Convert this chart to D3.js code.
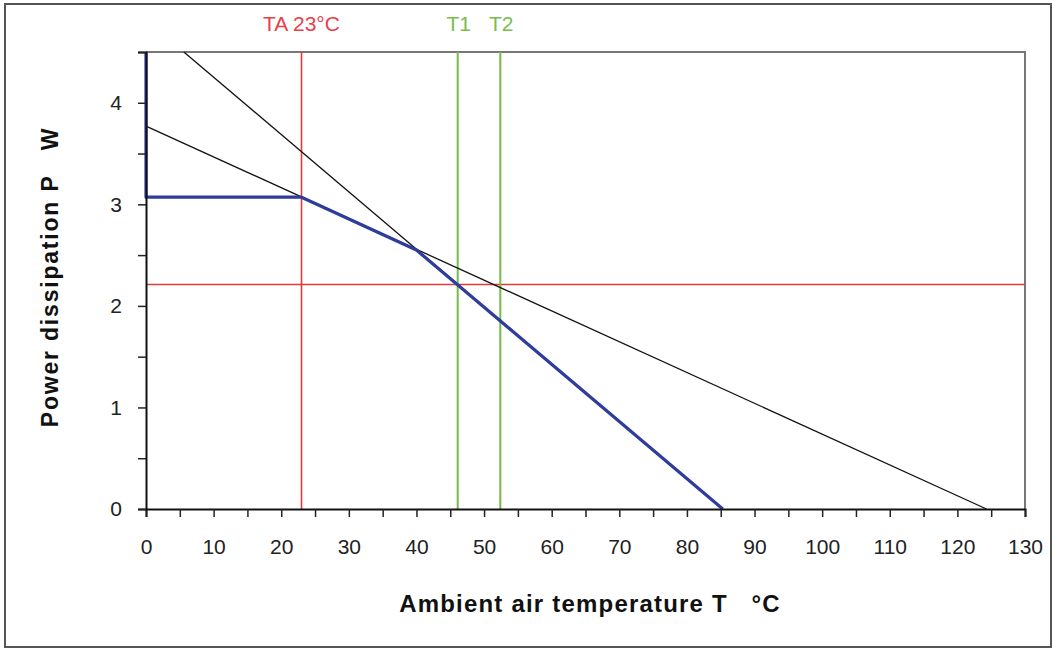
<!DOCTYPE html>
<html lang="en">
<head>
<meta charset="UTF-8">
<title>Power derating</title>
<script src="https://cdn.jsdelivr.net/npm/d3@7"></script>
<style>
body { margin: 0; background: #fff; font-family: "Liberation Sans", Arial, sans-serif; }
.tick text { font-size: 21px; fill: #222; font-family: "Liberation Sans", Arial, sans-serif; }
</style>
</head>
<body>
<div id="chart"></div>
<script>
// data
var steepLine = [[5.6, 4.5], [85.3, 0]];
var shallowLine = [[0, 3.77], [124.3, 0]];
var derating = [[0, 4.5], [0, 3.07], [23, 3.07], [40, 2.55], [85.3, 0]];
var taLine = 23;
var tLines = [{ name: "T1", t: 46.1 }, { name: "T2", t: 52.4 }];
var pLimit = 2.21;
var xTicks = d3.range(0, 131, 5);
var yTicks = d3.range(0, 4.51, 0.5);

var W = 1055, H = 652;
var m = { left: 146, right: 1025, top: 52, bottom: 509 };

var svg = d3.select("#chart").append("svg")
  .attr("width", W).attr("height", H);

// outer frame
svg.append("rect")
  .attr("x", 5).attr("y", 4).attr("width", 1046).attr("height", 643)
  .attr("fill", "none").attr("stroke", "#555").attr("stroke-width", 2);

var x = d3.scaleLinear().domain([0, 130]).range([m.left, m.right]);
var y = d3.scaleLinear().domain([0, 4.5]).range([m.bottom, m.top]);

// plot area top / right border
svg.append("path")
  .attr("d", "M" + m.left + "," + m.top + "H" + m.right + "V" + m.bottom)
  .attr("fill", "none").attr("stroke", "#777").attr("stroke-width", 2);

var line = d3.line().x(function(d) { return x(d[0]); }).y(function(d) { return y(d[1]); });

// reference lines
svg.append("line")
  .attr("x1", x(0)).attr("x2", x(130))
  .attr("y1", y(pLimit)).attr("y2", y(pLimit))
  .attr("stroke", "#e63a3a").attr("stroke-width", 1.6);

svg.append("line")
  .attr("x1", x(taLine)).attr("x2", x(taLine))
  .attr("y1", y(0)).attr("y2", y(4.5))
  .attr("stroke", "#e63a3a").attr("stroke-width", 1.6);

svg.append("text")
  .attr("x", x(taLine)).attr("y", 31)
  .attr("text-anchor", "middle")
  .attr("fill", "#e8404a").attr("font-size", 21)
  .text("TA 23°C");

svg.selectAll("line.tl")
  .data(tLines).enter().append("line")
  .attr("class", "tl")
  .attr("x1", function(d) { return x(d.t); }).attr("x2", function(d) { return x(d.t); })
  .attr("y1", y(0)).attr("y2", y(4.5))
  .attr("stroke", "#74bb48").attr("stroke-width", 2);

svg.selectAll("text.tl")
  .data(tLines).enter().append("text")
  .attr("class", "tl")
  .attr("x", function(d) { return x(d.t) + 1; }).attr("y", 31)
  .attr("text-anchor", "middle")
  .attr("fill", "#79bd4c").attr("font-size", 21)
  .text(function(d) { return d.name; });

// black lines
svg.append("path").datum(steepLine).attr("d", line)
  .attr("fill", "none").attr("stroke", "#111").attr("stroke-width", 1.3);
svg.append("path").datum(shallowLine).attr("d", line)
  .attr("fill", "none").attr("stroke", "#111").attr("stroke-width", 1.3);

// derating curve
svg.append("path").datum(derating).attr("d", line)
  .attr("fill", "none").attr("stroke", "#2e3d9c").attr("stroke-width", 3.2)
  .attr("stroke-linejoin", "round");

// axes
var xAxis = svg.append("g")
  .attr("transform", "translate(0," + m.bottom + ")")
  .call(d3.axisBottom(x).tickValues(xTicks).tickSize(8).tickPadding(22)
    .tickFormat(function(d) { return d % 10 === 0 ? d : ""; }));
xAxis.select(".domain").attr("stroke", "#111").attr("stroke-width", 2);
xAxis.selectAll(".tick line").attr("stroke", "#222").attr("stroke-width", 1.5);

var yAxis = svg.append("g")
  .attr("transform", "translate(" + m.left + ",0)")
  .call(d3.axisLeft(y).tickValues(yTicks).tickSize(8).tickPadding(16)
    .tickFormat(function(d) { return d % 1 === 0 ? d : ""; }));
yAxis.select(".domain").attr("stroke", "#111").attr("stroke-width", 2);
yAxis.selectAll(".tick line").attr("stroke", "#222").attr("stroke-width", 1.5);

// axis titles
svg.append("text")
  .attr("x", 590).attr("y", 612)
  .attr("text-anchor", "middle")
  .attr("font-size", 24).attr("font-weight", "bold").attr("fill", "#111")
  .attr("letter-spacing", 1.2)
  .attr("xml:space", "preserve")
  .text("Ambient air temperature T   °C");

svg.append("text")
  .attr("transform", "translate(58,277) rotate(-90)")
  .attr("text-anchor", "middle")
  .attr("font-size", 23).attr("font-weight", "bold").attr("fill", "#111")
  .attr("letter-spacing", 1.8)
  .attr("xml:space", "preserve")
  .text("Power dissipation P   W");
</script>
</body>
</html>
